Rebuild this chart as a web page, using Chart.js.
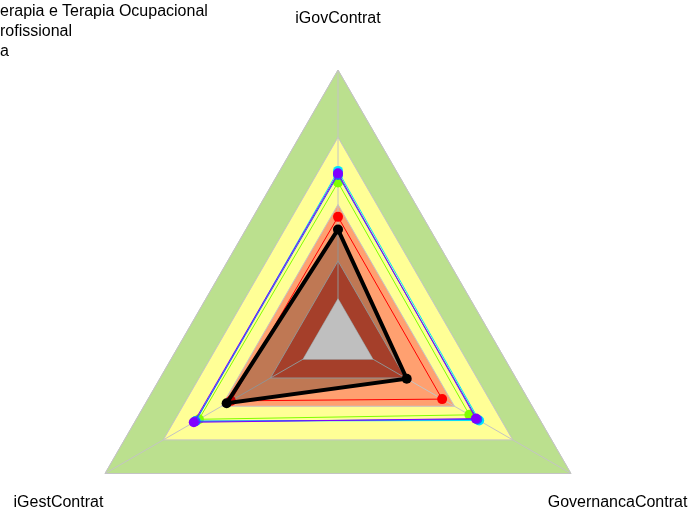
<!DOCTYPE html>
<html lang="pt">
<head>
    <meta charset="UTF-8">
    <title>radar</title>
    <script src="https://cdn.jsdelivr.net/npm/chart.js"></script>
    <style>
        body { margin: 0; background: #fff; }
        #wrap { position: relative; width: 691px; height: 513px; overflow: hidden; }
        #legend { position: absolute; left: 0; top: 1px; font: 16px "Liberation Sans", Arial, sans-serif; line-height: 20px; color: #000; white-space: nowrap; }
    </style>
</head>
<body>
<div id="wrap">
    <canvas id="radarChart" width="691" height="620"></canvas>
    <div id="legend"></div>
</div>
<script>
    // eixos
    const axisLabels = ['iGovContrat', 'GovernancaContrat', 'iGestContrat'];

    // faixas de fundo (0 a 1)
    const gridLevels = [0, 0.15, 0.29, 0.5, 0.75, 1];
    const bandLevels = [1, 0.75, 0.5, 0.29, 0.15];

    // series
    const blueValues = [0.61, 0.598, 0.612];
    const cyanValues = [0.625, 0.606, 0.61];
    const purpleValues = [0.616, 0.592, 0.619];
    const greenValues = [0.582, 0.564, 0.597];
    const redValues = [0.454, 0.447, 0.46];
    const blackValues = [0.407, 0.295, 0.478];

    // legenda (cortada na imagem)
    const legendLines = ['erapia e Terapia Ocupacional', 'rofissional', 'a'];

    const bandColors = ['#bbe08e', '#ffff96', '#ffa070', '#dc5538', '#ffffff'];

    document.getElementById('legend').innerHTML = legendLines.map(t => '<div>' + t + '</div>').join('');

    const bandSets = bandLevels.map((v, i) => ({
        label: 'faixa ' + v,
        data: axisLabels.map(() => v),
        backgroundColor: bandColors[i],
        borderWidth: 0,
        pointRadius: 0,
        fill: true,
        order: 100 - i
    }));
    // a grade fica por cima desta faixa (o centro branco a cobre)
    const gridBand = 'faixa ' + bandLevels[3];

    function serie(label, values, color, width, order) {
        return {
            label: label,
            data: values,
            borderColor: color,
            backgroundColor: color,
            pointBackgroundColor: color,
            pointBorderWidth: 0,
            pointRadius: 5,
            borderWidth: width,
            fill: false,
            order: order
        };
    }

    const blackSet = serie('preto', blackValues, '#000000', 4, 0);
    blackSet.fill = true;
    blackSet.backgroundColor = 'rgba(0,0,0,0.25)';
    blackSet.pointBackgroundColor = '#000000';

    const gridPlugin = {
        id: 'gridOverBands',
        afterDatasetDraw(chart, args) {
            if (chart.data.datasets[args.index].label === gridBand) {
                chart.scales.r.drawGrid();
            }
        }
    };

    const labelPlugin = {
        id: 'axisText',
        afterDraw(chart) {
            const s = chart.scales.r;
            const ctx = chart.ctx;
            ctx.save();
            ctx.font = '16px "Liberation Sans", Arial, sans-serif';
            ctx.fillStyle = '#000';
            ctx.textAlign = 'center';
            ctx.textBaseline = 'middle';
            axisLabels.forEach((t, i) => {
                const p = s.getPointPosition(i, s.drawingArea * 1.2);
                ctx.fillText(t, p.x, p.y + 2);
            });
            ctx.restore();
        }
    };

    const ctx = document.getElementById('radarChart').getContext('2d');
    new Chart(ctx, {
        type: 'radar',
        data: {
            labels: axisLabels,
            datasets: [
                blackSet,
                serie('vermelho', redValues, '#ff0000', 1, 1),
                serie('roxo', purpleValues, '#8000ff', 1, 2),
                serie('azul', blueValues, '#2060ff', 1, 3),
                serie('ciano', cyanValues, '#00e5ff', 1, 4),
                serie('verde', greenValues, '#80ff00', 1, 5)
            ].concat(bandSets)
        },
        options: {
            responsive: false,
            animation: false,
            layout: { padding: { left: 69, right: 84, top: 70, bottom: 12 } },
            plugins: { legend: { display: false }, tooltip: { enabled: false } },
            elements: { line: { tension: 0 } },
            scales: {
                r: {
                    min: 0,
                    max: 1,
                    afterBuildTicks: (scale) => { scale.ticks = gridLevels.map(v => ({ value: v })); },
                    ticks: { display: false },
                    grid: { color: '#c4c4c4', lineWidth: 1 },
                    angleLines: { color: '#c4c4c4', lineWidth: 1 },
                    pointLabels: { display: false }
                }
            }
        },
        plugins: [gridPlugin, labelPlugin]
    });
</script>
</body>
</html>
